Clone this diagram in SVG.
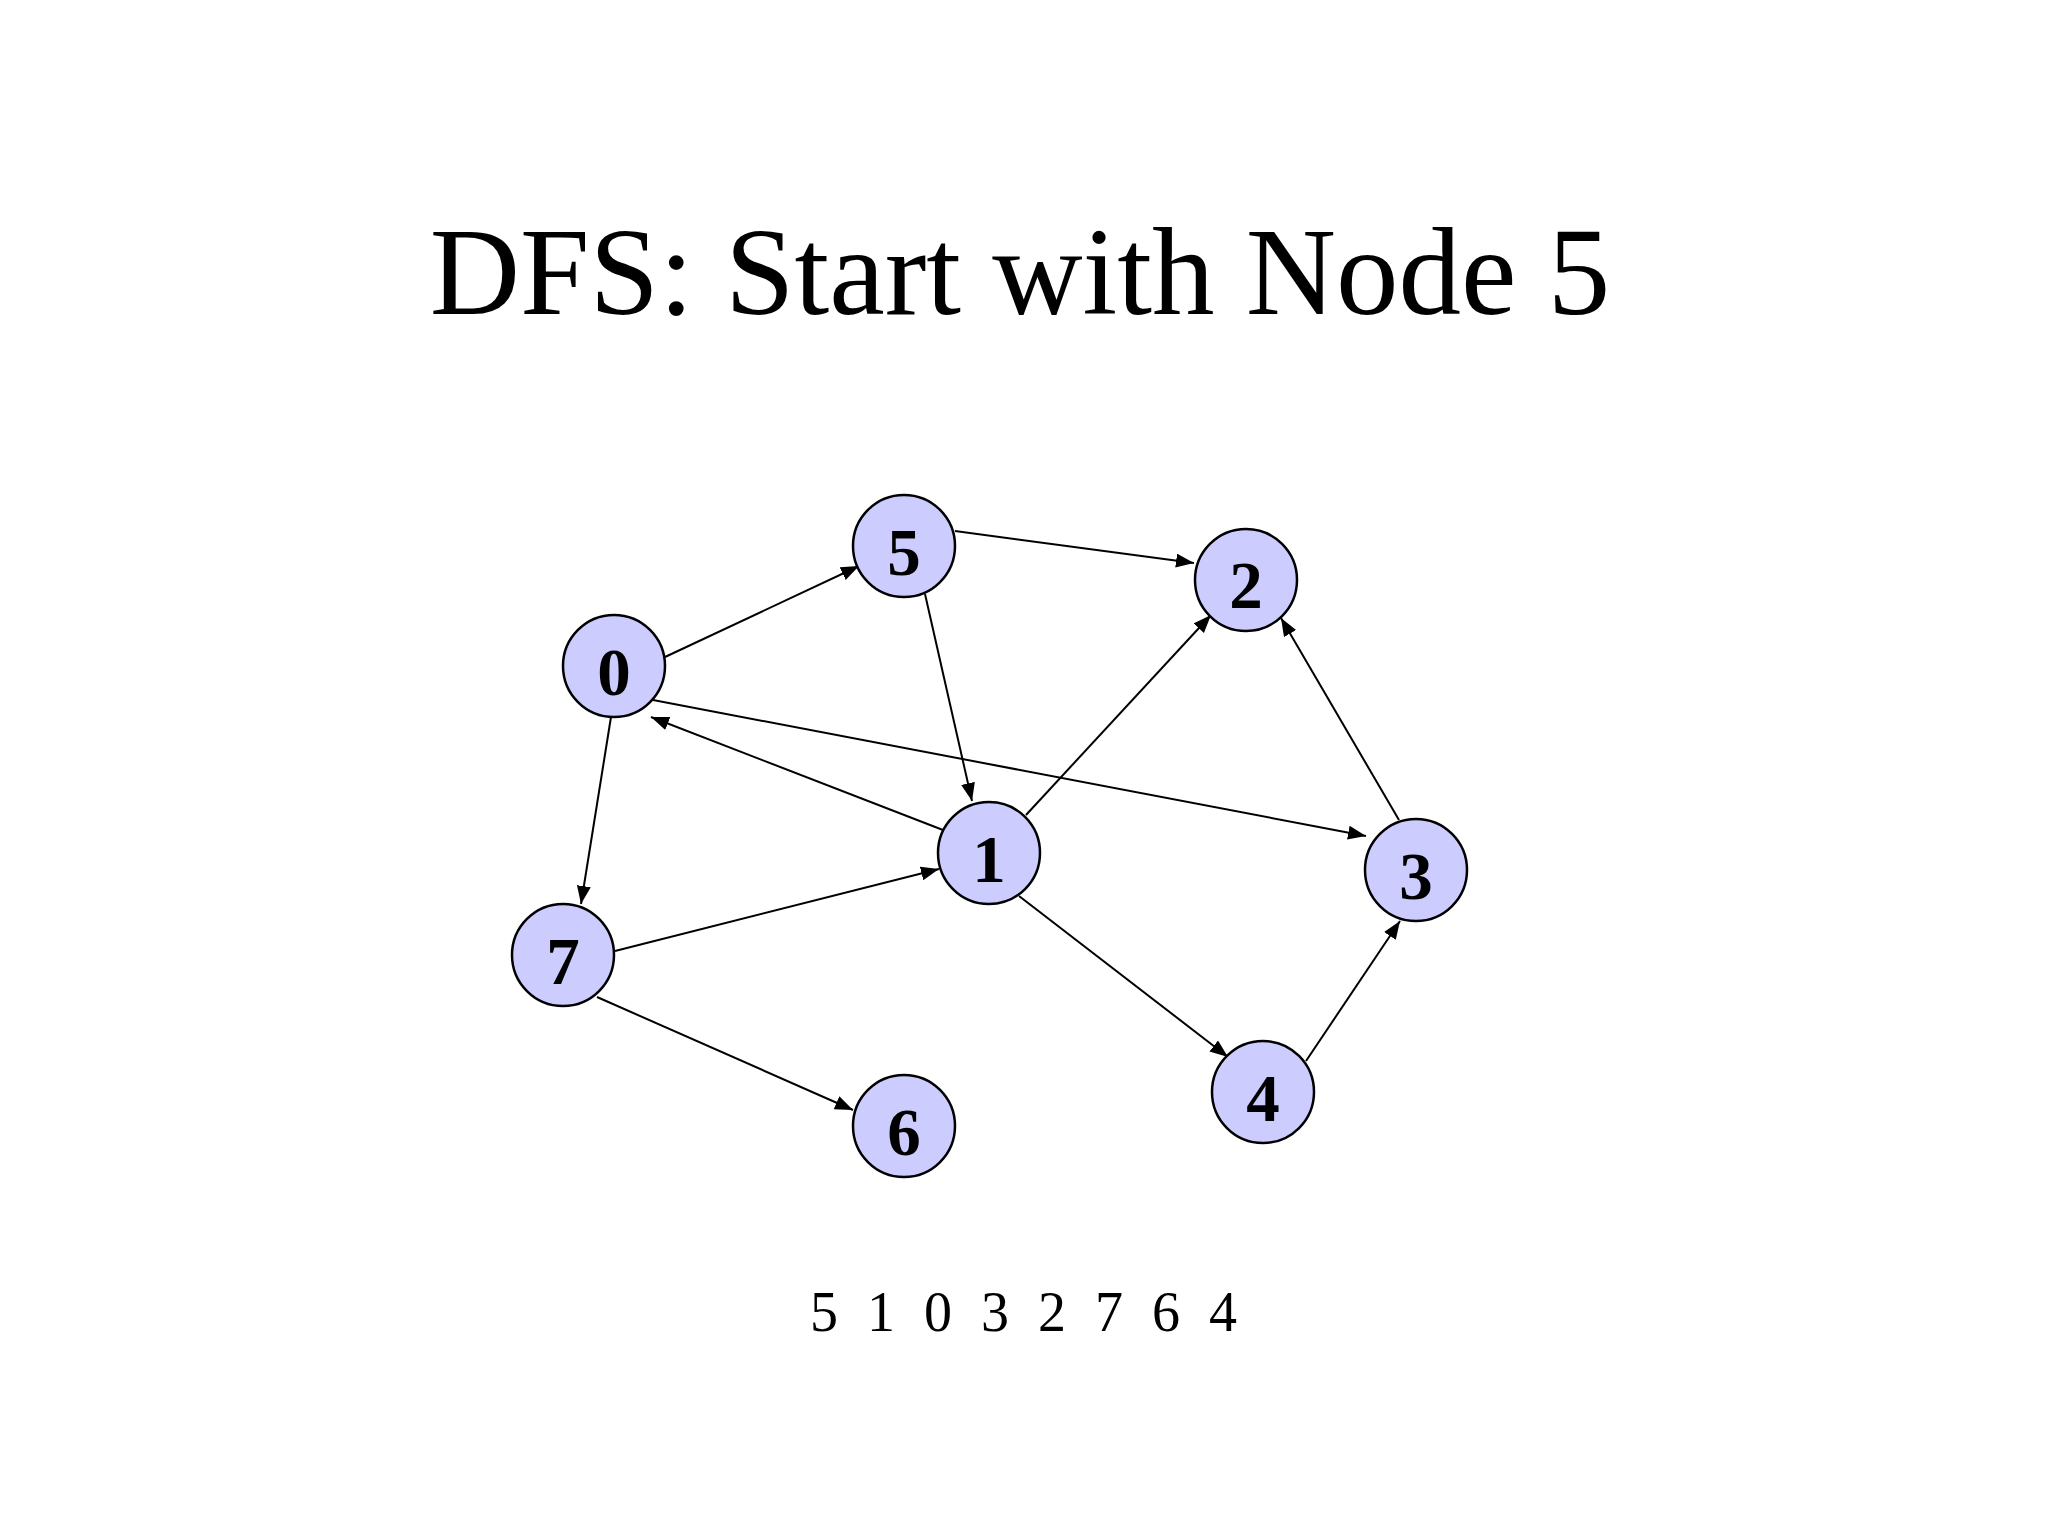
<svg xmlns="http://www.w3.org/2000/svg" width="2048" height="1536" viewBox="0 0 2048 1536">
<style>
.node circle{fill:#CCCCFF;stroke:#000;stroke-width:2.5}
.node text{font-family:"Liberation Serif","Times New Roman",serif;font-weight:bold;font-size:67px;text-anchor:middle;fill:#000}
.edges line{stroke:#000;stroke-width:2;marker-end:url(#arrow)}
.title{font-family:"Liberation Serif","Times New Roman",serif;font-size:125px;text-anchor:middle;fill:#000}
.order{font-family:"Liberation Serif","Times New Roman",serif;font-size:56px;fill:#000;word-spacing:15px}
</style>
<defs>
<marker id="arrow" markerUnits="userSpaceOnUse" markerWidth="20" markerHeight="16" refX="18" refY="7" orient="auto">
<path d="M0,0 L18,7 L0,14 z" fill="#000"/>
</marker>
</defs>
<rect width="2048" height="1536" fill="#fff"/>
<text class="title" x="1020" y="314">DFS: Start with Node 5</text>
<g class="edges" id="connectors">
<line x1="665" y1="657" x2="859" y2="566"/>
<line x1="955" y1="531" x2="1194" y2="563"/>
<line x1="925" y1="594" x2="972" y2="801"/>
<line x1="653" y1="700" x2="1366" y2="836"/>
<line x1="943" y1="830" x2="651" y2="717"/>
<line x1="1026" y1="815" x2="1211" y2="615"/>
<line x1="1399" y1="820" x2="1281" y2="618"/>
<line x1="611" y1="717" x2="581" y2="904"/>
<line x1="615" y1="951" x2="939" y2="869"/>
<line x1="597" y1="997" x2="853" y2="1110"/>
<line x1="1019" y1="896" x2="1228" y2="1057"/>
<line x1="1306" y1="1061" x2="1400" y2="921"/>
</g>
<g class="node" id="node5"><circle cx="904" cy="546" r="51"/><text x="904" y="575">5</text></g>
<g class="node" id="node2"><circle cx="1246" cy="580" r="51"/><text x="1246" y="608">2</text></g>
<g class="node" id="node0"><circle cx="614" cy="666" r="51"/><text x="614" y="695">0</text></g>
<g class="node" id="node1"><circle cx="989" cy="853" r="51"/><text x="989" y="882">1</text></g>
<g class="node" id="node3"><circle cx="1416" cy="870" r="51"/><text x="1416" y="899">3</text></g>
<g class="node" id="node7"><circle cx="563" cy="955" r="51"/><text x="563" y="984">7</text></g>
<g class="node" id="node6"><circle cx="904" cy="1126" r="51"/><text x="904" y="1155">6</text></g>
<g class="node" id="node4"><circle cx="1263" cy="1092" r="51"/><text x="1263" y="1121">4</text></g>
<text class="order" x="810" y="1331">5 1 0 3 2 7 6 4</text>
</svg>
